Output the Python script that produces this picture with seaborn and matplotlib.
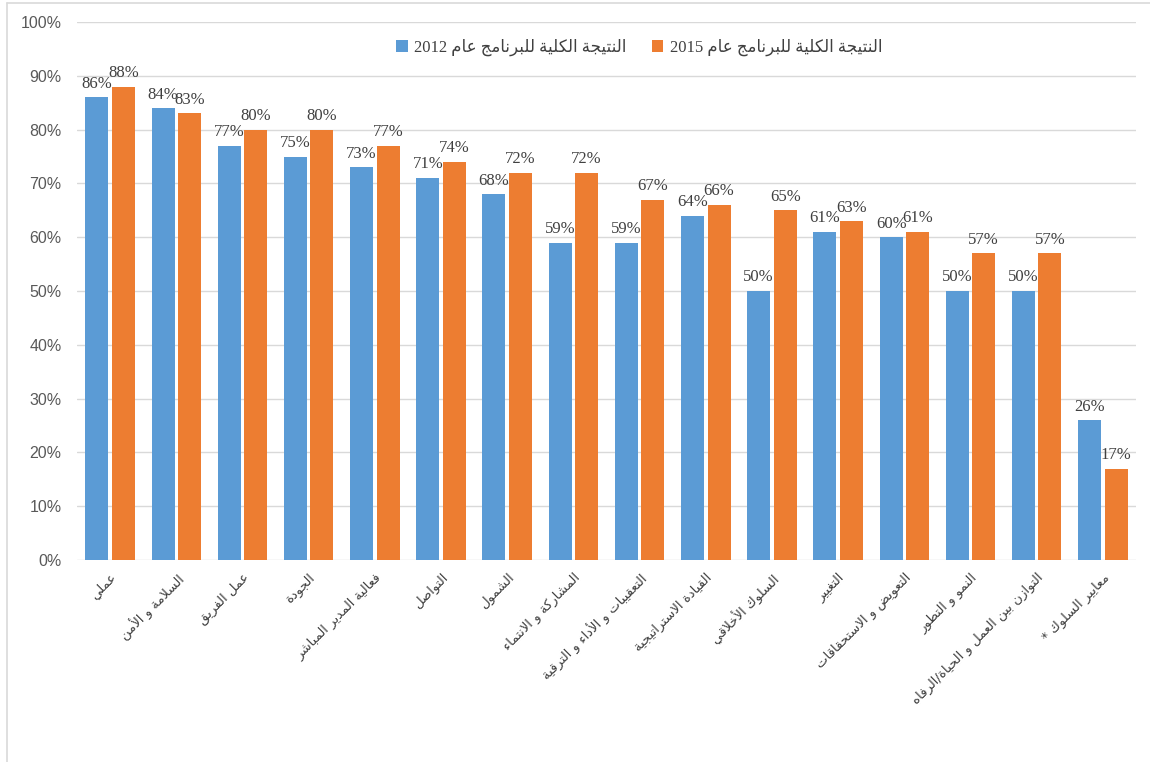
import numpy as np
import pandas as pd
import matplotlib
matplotlib.use("Agg")
import matplotlib.pyplot as plt
from matplotlib.lines import Line2D
import seaborn as sns

# ── Data ──────────────────────────────────────────────────────────────────────
categories = [
    "عملي",
    "السلامة و الأمن",
    "عمل الفريق",
    "الجودة",
    "فعالية المدير المباشر",
    "التواصل",
    "الشمول",
    "المشاركة و الانتماء",
    "التعقيبات و الأداء و الترقية",
    "القيادة الاستراتيجية",
    "السلوك الأخلاقي",
    "التغيير",
    "التعويض و الاستحقاقات",
    "النمو و التطور",
    "التوازن بين العمل و الحياة/الرفاه",
    "معايير السلوك *",
]
score_2012 = [86, 84, 77, 75, 73, 71, 68, 59, 59, 64, 50, 61, 60, 50, 50, 26]
score_2015 = [88, 83, 80, 80, 77, 74, 72, 72, 67, 66, 65, 63, 61, 57, 57, 17]
years = ["2012", "2015"]
legend_text = "النتيجة الكلية للبرنامج عام"
colors = ["#5B9BD5", "#ED7D31"]

# ── Arabic shaping (matplotlib has no bidi / joining support) ────────────────
DUAL = {
    "ئ": 0xFE89, "ب": 0xFE8F, "ت": 0xFE95, "ث": 0xFE99, "ج": 0xFE9D, "ح": 0xFEA1,
    "خ": 0xFEA5, "س": 0xFEB1, "ش": 0xFEB5, "ص": 0xFEB9, "ض": 0xFEBD, "ط": 0xFEC1,
    "ظ": 0xFEC5, "ع": 0xFEC9, "غ": 0xFECD, "ف": 0xFED1, "ق": 0xFED5, "ك": 0xFED9,
    "ل": 0xFEDD, "م": 0xFEE1, "ن": 0xFEE5, "ه": 0xFEE9, "ي": 0xFEF1,
}
RIGHT = {
    "آ": 0xFE81, "أ": 0xFE83, "ؤ": 0xFE85, "إ": 0xFE87, "ا": 0xFE8D, "ة": 0xFE93,
    "د": 0xFEA9, "ذ": 0xFEAB, "ر": 0xFEAD, "ز": 0xFEAF, "و": 0xFEED, "ى": 0xFEEF,
}
LAMALEF = {"آ": 0xFEF5, "أ": 0xFEF7, "إ": 0xFEF9, "ا": 0xFEFB}


def shape(text):
    units, i = [], 0
    while i < len(text):
        if text[i] == "ل" and i + 1 < len(text) and text[i + 1] in LAMALEF:
            units.append(("LA", text[i + 1]))
            i += 2
        else:
            units.append(("C", text[i]))
            i += 1

    def joinable(u):
        return u[0] == "LA" or u[1] in DUAL or u[1] in RIGHT

    out = []
    for k, u in enumerate(units):
        prev_j = k > 0 and units[k - 1][0] == "C" and units[k - 1][1] in DUAL and joinable(u)
        if u[0] == "LA":
            out.append(chr(LAMALEF[u[1]] + (1 if prev_j else 0)))
            continue
        c = u[1]
        if c in DUAL:
            next_j = k + 1 < len(units) and joinable(units[k + 1])
            off = 3 if (prev_j and next_j) else 2 if next_j else 1 if prev_j else 0
            out.append(chr(DUAL[c] + off))
        elif c in RIGHT:
            out.append(chr(RIGHT[c] + (1 if prev_j else 0)))
        else:
            out.append(c)
    return "".join(out)[::-1]


shaped_cats = [shape(c) for c in categories]
df = pd.DataFrame({
    "category": shaped_cats * 2,
    "year": [years[0]] * len(categories) + [years[1]] * len(categories),
    "value": score_2012 + score_2015,
})

# ── Plot ──────────────────────────────────────────────────────────────────────
sns.set_theme(style="white")
plt.rcParams["font.family"] = ["Liberation Serif", "DejaVu Sans"]

fig = plt.figure(figsize=(11.5, 7.62), dpi=100)
ax = fig.add_axes([77 / 1150, 1 - 560 / 762, (1136 - 77) / 1150, (560 - 22) / 762])

sns.barplot(data=df, x="category", y="value", hue="year", palette=colors,
            width=0.8, gap=0.13, errorbar=None, ax=ax, saturation=1,
            linewidth=0, edgecolor="none", zorder=3)

for cont in ax.containers:
    ax.bar_label(cont, labels=[f"{v:.0f}%" for v in cont.datavalues], padding=4,
                 fontsize=12, color="#404040", family="Liberation Serif")

ax.set_ylim(0, 100)
ax.set_yticks(np.arange(0, 101, 10))
ax.set_yticklabels([f"{t}%" for t in range(0, 101, 10)], family="Liberation Sans",
                   fontsize=11.5, color="#595959")
ax.yaxis.grid(True, color="#D9D9D9", linewidth=1, zorder=0)
ax.set_axisbelow(True)
for s in ax.spines.values():
    s.set_visible(False)
ax.tick_params(axis="both", length=0)
ax.tick_params(axis="y", pad=11)
ax.tick_params(axis="x", pad=8)
ax.set_xlabel("")
ax.set_ylabel("")
ax.set_xlim(-0.5, len(categories) - 0.5)

for lbl in ax.get_xticklabels():
    lbl.set_rotation(45)
    lbl.set_ha("right")
    lbl.set_rotation_mode("anchor")
    lbl.set_fontsize(9.5)
    lbl.set_color("#404040")
    lbl.set_family("DejaVu Sans")

handles, _ = ax.get_legend_handles_labels()
ax.legend(handles, [f"{y} {shape(legend_text)}" for y in years],
          loc="center", bbox_to_anchor=(0.531, 0.953), ncol=2, frameon=False,
          fontsize=12, handlelength=0.7, handleheight=0.7, handletextpad=0.4,
          columnspacing=1.5, labelcolor="#404040")

# chart border (partially cropped in the original)
fig.add_artist(Line2D([7 / 1150, 7 / 1150], [0, 1 - 3 / 762], color="#D9D9D9", lw=1.2))
fig.add_artist(Line2D([7 / 1150, 1], [1 - 3 / 762, 1 - 3 / 762], color="#D9D9D9", lw=1.2))

plt.savefig("out.png", dpi=100)
plt.close()
